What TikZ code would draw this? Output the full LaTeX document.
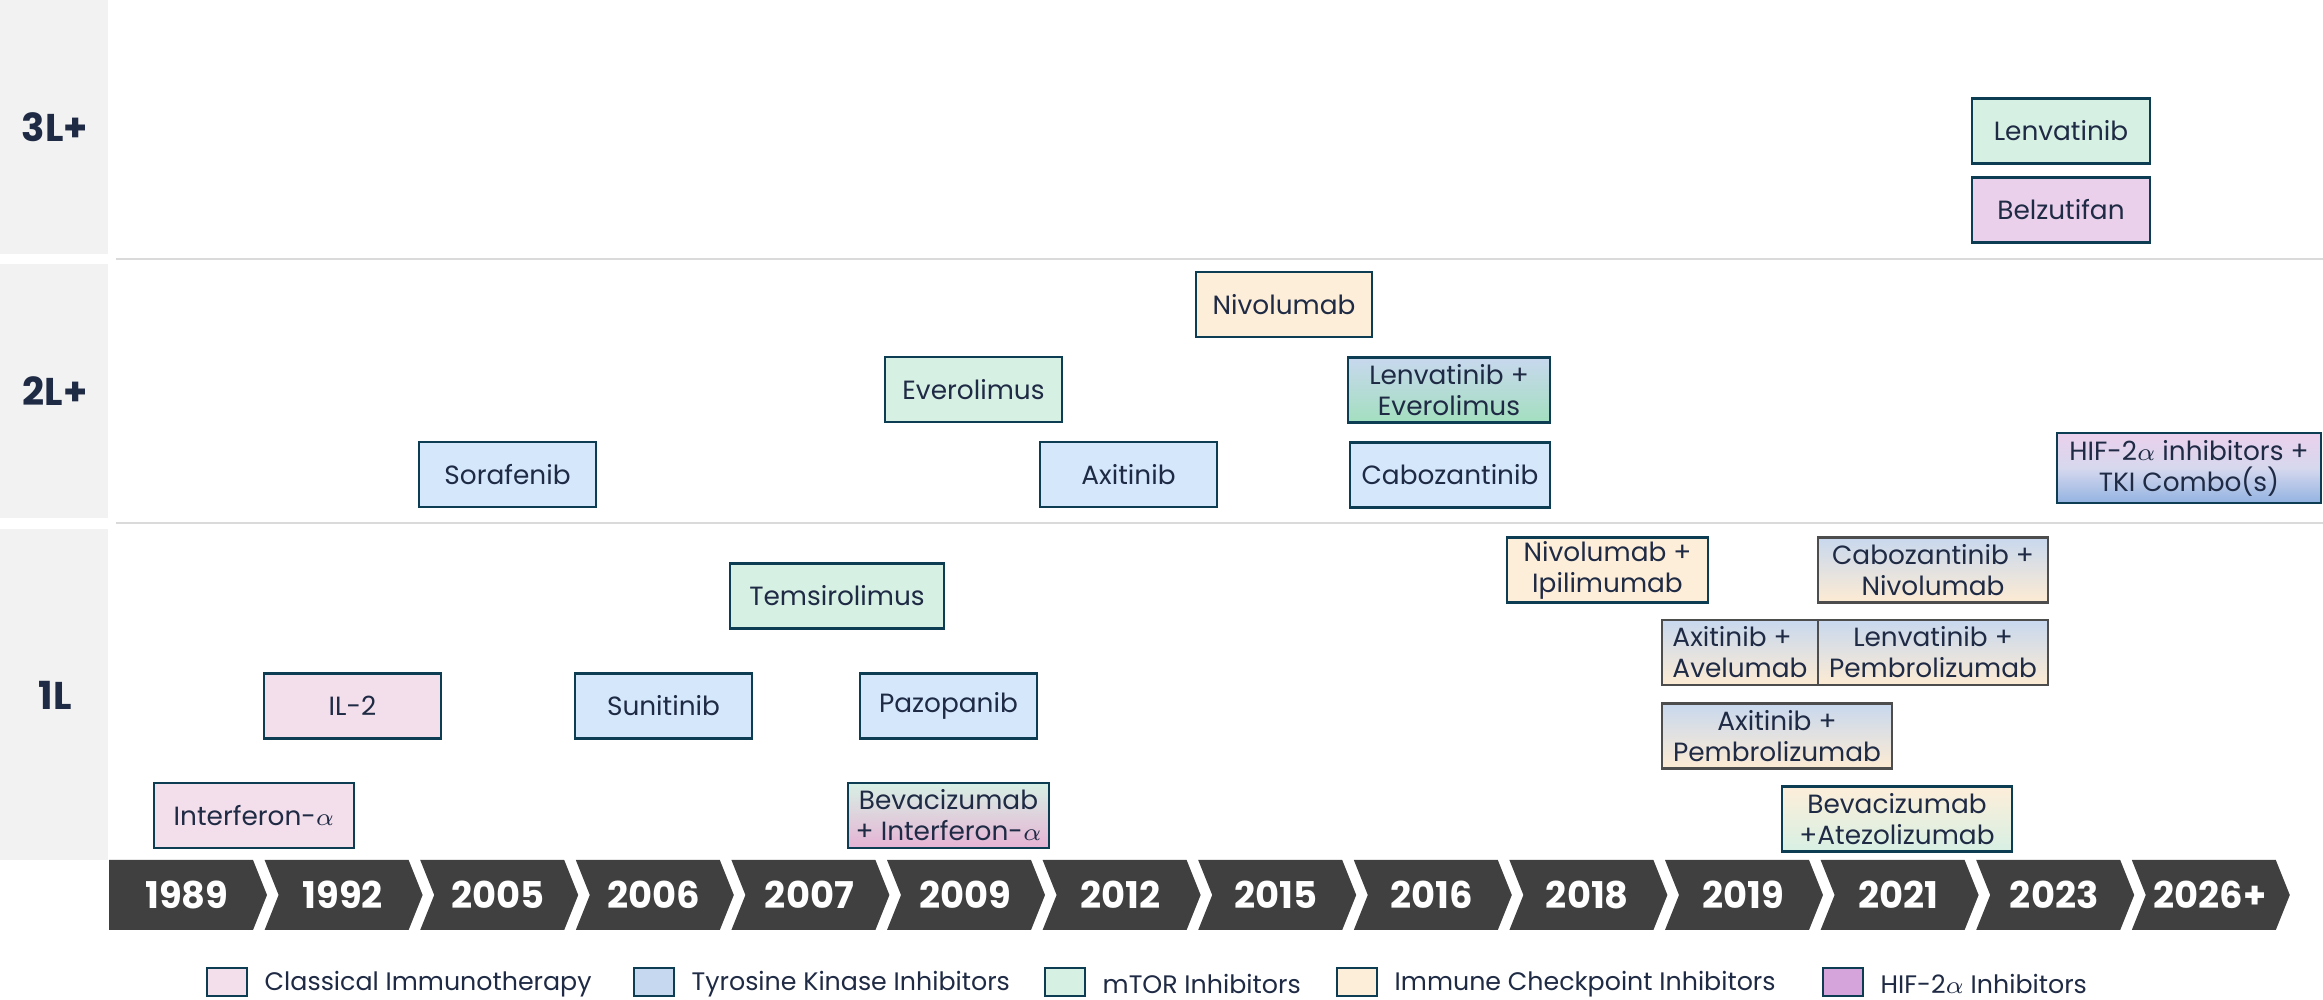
\documentclass[tikz,border=0pt]{standalone}
\usepackage{fontspec}
\setmainfont{Poppins}
\usepackage{xcolor}

\definecolor{ink}{HTML}{1F2A44}
\definecolor{boxline}{HTML}{0D3D52}
\definecolor{comboline}{HTML}{4D4D4D}
\definecolor{bandgray}{HTML}{F2F2F2}
\definecolor{sepgray}{HTML}{DADADA}
\definecolor{yeargray}{HTML}{404040}
\definecolor{cifill}{HTML}{F2DFEB}
\definecolor{tkifill}{HTML}{D4E7FB}
\definecolor{mtorfill}{HTML}{D7F0E4}
\definecolor{icifill}{HTML}{FDEED9}
\definecolor{hiffill}{HTML}{EBD0EC}
\definecolor{tkitop}{HTML}{C8D8EE}
\definecolor{icibot}{HTML}{FDEBD3}
\definecolor{mtorbot}{HTML}{A3DFBF}
\definecolor{cibot}{HTML}{E6B3D5}
\definecolor{hifmid}{HTML}{D6D8EE}
\definecolor{hifbot}{HTML}{93B3E1}
\definecolor{legtki}{HTML}{C5D8EF}
\definecolor{leghif}{HTML}{D4A4DA}

\begin{document}
\begin{tikzpicture}[font=\fontsize{7.5}{8.8}\selectfont, text=ink]

  \tikzset{drug/.style={draw=boxline, line width=0.75pt, minimum height=0.65cm,
                        inner sep=1pt, align=center},
           combo/.style={drug, draw=comboline, top color=tkitop, bottom color=icibot},
           rowlabel/.style={font=\bfseries\fontsize{11}{13}\selectfont},
           yeartext/.style={text=white, font=\bfseries\fontsize{10.5}{12}\selectfont},
           legbox/.style={draw=boxline, line width=0.75pt, minimum width=0.4cm,
                          minimum height=0.28cm, inner sep=0pt},
           legtext/.style={anchor=west, inner sep=0pt, font=\fontsize{7.2}{8.6}\selectfont},
           sepline/.style={draw=sepgray, line width=0.8pt}}

  \useasboundingbox (0,0) rectangle (23.23,-10);

  % row headers
  \fill[bandgray] (0,0) rectangle (1.08,-2.54);
  \fill[bandgray] (0,-2.64) rectangle (1.08,-5.18);
  \fill[bandgray] (0,-5.29) rectangle (1.08,-8.60);
  \node[rowlabel] (r3) at (0.55,-1.27) {3L+};
  \node[rowlabel] (r2) at (0.55,-3.91) {2L+};
  \node[rowlabel] (r1) at (0.55,-6.95) {1L};
  \draw[sepline] (1.16,-2.59) -- (23.23,-2.59);
  \draw[sepline] (1.16,-5.23) -- (23.23,-5.23);

  % 3L+
  \node[drug, fill=mtorfill, minimum width=1.78cm] (lenv3) at (20.61,-1.31) {Lenvatinib};
  \node[drug, fill=hiffill, minimum width=1.78cm] (belz) at (20.61,-2.10) {Belzutifan};

  % 2L+
  \node[drug, fill=icifill, minimum width=1.76cm] (nivo2) at (12.84,-3.045) {Nivolumab};
  \node[drug, fill=mtorfill, minimum width=1.77cm] (evero) at (9.735,-3.895) {Everolimus};
  \node[drug, top color=tkitop, bottom color=mtorbot, minimum width=2.02cm] (lenvevero)
    at (14.49,-3.90) {Lenvatinib +\\Everolimus};
  \node[drug, fill=tkifill, minimum width=1.77cm] (sora) at (5.075,-4.745) {Sorafenib};
  \node[drug, fill=tkifill, minimum width=1.77cm] (axi) at (11.285,-4.745) {Axitinib};
  \node[drug, fill=tkifill, minimum width=2.00cm] (cabo) at (14.50,-4.75) {Cabozantinib};
  \node[drug, top color=hiffill, bottom color=hifbot, middle color=hifmid,
        minimum width=2.64cm, minimum height=0.70cm] (hifcombo)
    at (21.89,-4.68) {HIF-2$\alpha$ inhibitors +\\TKI Combo(s)};

  % 1L
  \node[drug, fill=icifill, minimum width=2.01cm] (nivoipi) at (16.075,-5.70) {Nivolumab +\\Ipilimumab};
  \node[combo, minimum width=2.30cm] (cabonivo) at (19.33,-5.70) {Cabozantinib +\\Nivolumab};
  \node[drug, fill=mtorfill, minimum width=2.14cm] (temsi) at (8.37,-5.96) {Temsirolimus};
  \node[combo, minimum width=1.56cm, align=left] (axiavel) at (17.40,-6.525) {Axitinib +\\Avelumab};
  \node[combo, minimum width=2.30cm] (lenvpembro) at (19.33,-6.525) {Lenvatinib +\\Pembrolizumab};
  \node[drug, fill=cifill, minimum width=1.77cm] (il2) at (3.525,-7.06) {IL-2};
  \node[drug, fill=tkifill, minimum width=1.77cm] (suni) at (6.635,-7.06) {Sunitinib};
  \node[drug, fill=tkifill, minimum width=1.77cm] (pazo) at (9.485,-7.06) {Pazopanib};
  \node[combo, minimum width=2.30cm] (axipembro) at (17.77,-7.36) {Axitinib +\\Pembrolizumab};
  \node[drug, fill=cifill, minimum width=2.00cm] (ifn) at (2.54,-8.155) {Interferon-$\alpha$};
  \node[drug, top color=mtorfill, bottom color=cibot, minimum width=2.01cm] (bevifn)
    at (9.485,-8.155) {Bevacizumab\\+ Interferon-$\alpha$};
  \node[drug, top color=icifill, bottom color=mtorfill, minimum width=2.30cm] (bevatezo)
    at (18.97,-8.19) {Bevacizumab\\+Atezolizumab};

  % timeline
  \foreach \yr [count=\i from 0] in {1989,1992,2005,2006,2007,2009,2012,2015,2016,2018,2019,2021,2023,2026+} {
    \pgfmathsetmacro{\xa}{1.09+1.556*\i}
    \ifnum\i=0 \def\nd{0}\else\def\nd{0.14}\fi
    \fill[yeargray] (\xa,-8.60) -- ++(1.44,0) -- ++(0.14,-0.35) -- ++(-0.14,-0.35)
      -- (\xa,-9.30) -- ++(\nd,0.35) -- cycle;
    \node[yeartext] (y\i) at (\xa+0.78,-8.95) {\yr};
  }

  % legend
  \foreach \x/\c/\t [count=\k] in {2.07/cifill/Classical Immunotherapy,
                                   6.34/legtki/Tyrosine Kinase Inhibitors,
                                   10.45/mtorfill/mTOR Inhibitors,
                                   13.37/icifill/Immune Checkpoint Inhibitors,
                                   18.23/leghif/HIF-2$\alpha$ Inhibitors} {
    \node[legbox, fill=\c] (lb\k) at (\x+0.2,-9.82) {};
    \node[legtext] (lt\k) at (\x+0.57,-9.84) {\t};
  }

\end{tikzpicture}
\end{document}
